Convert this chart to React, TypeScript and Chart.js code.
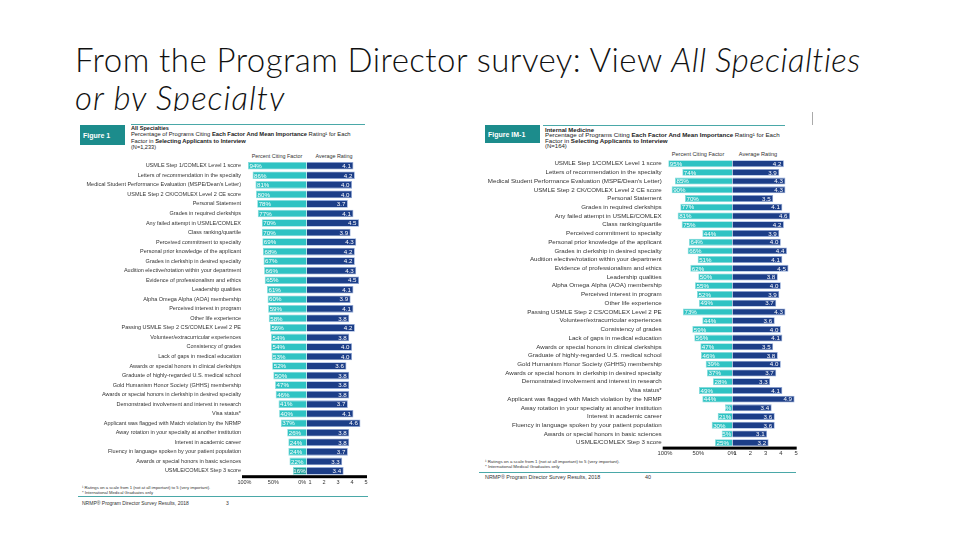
import React, { useEffect, useRef } from "react";
import { Chart, registerables } from "chart.js";

Chart.register(...registerables);

// ---------------- data ----------------
const factors = [
  "USMLE Step 1/COMLEX Level 1 score",
  "Letters of recommendation in the specialty",
  "Medical Student Performance Evaluation (MSPE/Dean's Letter)",
  "USMLE Step 2 CK/COMLEX Level 2 CE score",
  "Personal Statement",
  "Grades in required clerkships",
  "Any failed attempt in USMLE/COMLEX",
  "Class ranking/quartile",
  "Perceived commitment to specialty",
  "Personal prior knowledge of the applicant",
  "Grades in clerkship in desired specialty",
  "Audition elective/rotation within your department",
  "Evidence of professionalism and ethics",
  "Leadership qualities",
  "Alpha Omega Alpha (AOA) membership",
  "Perceived interest in program",
  "Other life experience",
  "Passing USMLE Step 2 CS/COMLEX Level 2 PE",
  "Volunteer/extracurricular experiences",
  "Consistency of grades",
  "Lack of gaps in medical education",
  "Awards or special honors in clinical clerkships",
  "Graduate of highly-regarded U.S. medical school",
  "Gold Humanism Honor Society (GHHS) membership",
  "Awards or special honors in clerkship in desired specialty",
  "Demonstrated involvement and interest in research",
  "Visa status*",
  "Applicant was flagged with Match violation by the NRMP",
  "Away rotation in your specialty at another institution",
  "Interest in academic career",
  "Fluency in language spoken by your patient population",
  "Awards or special honors in basic sciences",
  "USMLE/COMLEX Step 3 score",
];

const allPercent = [94, 86, 81, 80, 78, 77, 70, 70, 69, 68, 67, 66, 65, 61, 60, 59, 58, 56, 54, 54, 53, 52, 50, 47, 46, 41, 40, 37, 26, 24, 24, 22, 16];
const allRating = [4.1, 4.2, 4.0, 4.0, 3.7, 4.1, 4.5, 3.9, 4.3, 4.2, 4.2, 4.3, 4.5, 4.1, 3.9, 4.1, 3.8, 4.2, 3.8, 4.0, 4.0, 3.6, 3.8, 3.8, 3.8, 3.7, 4.1, 4.6, 3.8, 3.8, 3.7, 3.3, 3.4];

const imPercent = [95, 74, 85, 90, 70, 77, 81, 75, 44, 64, 66, 51, 62, 50, 55, 52, 49, 73, 44, 59, 56, 47, 46, 39, 37, 28, 49, 44, 10, 21, 30, 15, 25];
const imRating = [4.2, 3.9, 4.3, 4.3, 3.5, 4.1, 4.6, 4.2, 3.9, 4.0, 4.4, 4.1, 4.5, 3.8, 4.0, 3.9, 3.7, 4.3, 3.6, 4.0, 4.1, 3.5, 3.8, 4.0, 3.7, 3.3, 4.1, 4.9, 3.4, 3.6, 3.6, 3.1, 3.2];

const percentTicks = [100, 50, 0];
const ratingTicks = [1, 2, 3, 4, 5];

// ---------------- styles ----------------
const TEAL = "#2fc3c3";
const TEAL_DARK = "#26a29e";
const TEAL_EDGE = "#86dcdc";
const NAVY = "#1c3e88";
const NAVY_EDGE = "#90a8d8";
const HEAD_TEAL = "#1c8c8c";
const LINE_TEAL = "#4aa8a8";
const FONT = "'Liberation Sans', Arial, sans-serif";

const barLabels = {
  id: "barLabels",
  beforeDatasetsDraw(chart: any) {
    const { ctx, chartArea } = chart;
    ctx.save();
    ctx.fillStyle = "#000000";
    ctx.fillRect(chartArea.left, chartArea.bottom - 0.5, chartArea.right - chartArea.left, 3);
    ctx.restore();
  },
  afterDatasetsDraw(chart: any, _args: any, opts: any) {
    const { ctx } = chart;
    ctx.save();
    ctx.font = `${opts.size}px ${FONT}`;
    ctx.fillStyle = "#ffffff";
    ctx.textBaseline = "middle";
    const pMeta = chart.getDatasetMeta(0);
    const rMeta = chart.getDatasetMeta(1);
    const boundary = chart.scales.xp.right;
    pMeta.data.forEach((bar: any, i: number) => {
      const text = chart.data.datasets[0].data[i] + "%";
      const left = Math.min(bar.x, bar.base);
      const w = ctx.measureText(text).width;
      const x = Math.min(left + 1.5, boundary - w - 1);
      ctx.textAlign = "left";
      ctx.fillText(text, x, bar.y + 0.5);
    });
    rMeta.data.forEach((bar: any, i: number) => {
      const v = chart.data.datasets[1].data[i];
      ctx.textAlign = "right";
      ctx.fillText(Number(v).toFixed(1), bar.x - 2.5, bar.y + 0.5);
    });
    ctx.restore();
  },
};

type Spec = {
  percent: number[];
  rating: number[];
  width: number;
  height: number;
  yWidth: number;
  pad: { top: number; right: number; bottom: number; left: number };
  xHeight: number;
  pWeight: number;
  rWeight: number;
  pMin: number;
  pMax: number;
  rMin: number;
  rMax: number;
  labelSize: number;
  tickSize: number;
  valueSize: number;
  lastDark: boolean;
};

function FigureChart({ spec, left, top }: { spec: Spec; left: number; top: number }) {
  const ref = useRef<HTMLCanvasElement | null>(null);
  useEffect(() => {
    if (!ref.current) return;
    const pColors = spec.percent.map((_, i) => (spec.lastDark && i === spec.percent.length - 1 ? TEAL_DARK : TEAL));
    const chart = new Chart(ref.current, {
      type: "bar",
      data: {
        labels: factors,
        datasets: [
          {
            data: spec.percent,
            xAxisID: "xp",
            base: spec.pMin,
            backgroundColor: pColors,
            borderColor: TEAL_EDGE,
            borderWidth: 0.8,
            grouped: false,
            barPercentage: 0.8,
            categoryPercentage: 1,
          } as any,
          {
            data: spec.rating,
            xAxisID: "xr",
            base: spec.rMin,
            backgroundColor: NAVY,
            borderColor: NAVY_EDGE,
            borderWidth: 0.8,
            grouped: false,
            barPercentage: 0.8,
            categoryPercentage: 1,
          } as any,
        ],
      },
      options: {
        indexAxis: "y",
        animation: false,
        responsive: false,
        maintainAspectRatio: false,
        layout: { padding: spec.pad },
        plugins: {
          legend: { display: false },
          tooltip: { enabled: false },
          barLabels: { size: spec.valueSize },
        } as any,
        scales: {
          y: {
            position: "left",
            grid: { display: false, drawTicks: false },
            border: { display: false },
            ticks: {
              autoSkip: false,
              padding: 1,
              color: "#333",
              font: { size: spec.labelSize, family: FONT },
            },
            afterFit: (s: any) => {
              s.width = spec.yWidth;
            },
          },
          xp: {
            type: "linear",
            position: "bottom",
            stack: "x",
            stackWeight: spec.pWeight,
            reverse: true,
            min: spec.pMin,
            max: spec.pMax,
            grid: { display: false, drawTicks: false },
            border: { display: false },
            ticks: {
              padding: 3,
              color: "#333",
              font: { size: spec.tickSize, family: FONT },
              callback: (v: any) => v + "%",
            },
            afterBuildTicks: (s: any) => {
              s.ticks = percentTicks.map((v) => ({ value: v }));
            },
            afterFit: (s: any) => {
              s.height = spec.xHeight;
            },
          },
          xr: {
            type: "linear",
            position: "bottom",
            stack: "x",
            stackWeight: spec.rWeight,
            min: spec.rMin,
            max: spec.rMax,
            grid: { display: false, drawTicks: false },
            border: { display: false },
            ticks: {
              padding: 3,
              color: "#333",
              font: { size: spec.tickSize, family: FONT },
            },
            afterBuildTicks: (s: any) => {
              s.ticks = ratingTicks.map((v) => ({ value: v }));
            },
            afterFit: (s: any) => {
              s.height = spec.xHeight;
            },
          },
        } as any,
      },
      plugins: [barLabels as any],
    });
    return () => chart.destroy();
  }, []);
  return (
    <canvas
      ref={ref}
      width={spec.width}
      height={spec.height}
      style={{ position: "absolute", left, top, width: spec.width, height: spec.height }}
    />
  );
}

// tiny text helper (rendered at 2x and scaled down to avoid minimum font sizes)
function T({
  x,
  y,
  size,
  children,
  weight = 400,
  color = "#333",
  align = "left",
}: {
  x: number;
  y: number;
  size: number;
  children: React.ReactNode;
  weight?: number;
  color?: string;
  align?: "left" | "center" | "right";
}) {
  const tx = align === "left" ? "0" : align === "center" ? "-50%" : "-100%";
  return (
    <div
      style={{
        position: "absolute",
        left: x,
        top: y,
        fontFamily: FONT,
        fontSize: size * 2,
        lineHeight: `${size * 2}px`,
        fontWeight: weight,
        color,
        whiteSpace: "nowrap",
        transformOrigin: "0 0",
        transform: `scale(0.5) translate(${tx}, -50%)`,
        pointerEvents: "none",
      }}
    >
      {children}
    </div>
  );
}

const leftSpec: Spec = {
  percent: allPercent,
  rating: allRating,
  width: 300,
  height: 345,
  yWidth: 164,
  pad: { top: 11, right: 11, bottom: 9.3, left: 0 },
  xHeight: 10,
  pWeight: 64.7,
  rWeight: 60.3,
  pMin: -7.8,
  pMax: 104.3,
  rMin: 0.76,
  rMax: 5.07,
  labelSize: 5.5,
  tickSize: 5.5,
  valueSize: 6.2,
  lastDark: true,
};

const rightSpec: Spec = {
  percent: imPercent,
  rating: imRating,
  width: 346,
  height: 322,
  yWidth: 196.7,
  pad: { top: 11.3, right: 15.3, bottom: 13.9, left: 0 },
  xHeight: 9,
  pWeight: 69.6,
  rWeight: 64.4,
  pMin: -0.9,
  pMax: 103.4,
  rMin: 0.82,
  rMax: 5.04,
  labelSize: 6.2,
  tickSize: 5.8,
  valueSize: 6.2,
  lastDark: false,
};

export default function App() {
  useEffect(() => {
    document.body.style.margin = "0";
  }, []);
  return (
    <div style={{ position: "relative", width: 960, height: 540, background: "#fff", overflow: "hidden" }}>
      {/* slide title */}
      <div
        style={{
          position: "absolute",
          left: 75,
          top: 40,
          fontFamily: "Lato, 'Open Sans', sans-serif",
          fontWeight: 300,
          fontSize: 33,
          letterSpacing: "0.45px",
          lineHeight: "38px",
          color: "#111",
          whiteSpace: "nowrap",
        }}
      >
        From the Program Director survey: View <i>All Specialties</i>
        <br />
        <i style={{ letterSpacing: "1px" }}>or by Specialty</i>
      </div>

      {/* figure backgrounds */}
      <div style={{ position: "absolute", left: 76, top: 111, width: 298, height: 400, background: "#fff" }} />
      <div style={{ position: "absolute", left: 474, top: 111, width: 338, height: 372, background: "#fff" }} />
      <div style={{ position: "absolute", left: 812, top: 112, width: 1, height: 13, background: "#aaa" }} />

      {/* left header */}
      <div style={{ position: "absolute", left: 80, top: 125, width: 45, height: 20, background: HEAD_TEAL }} />
      <T x={83} y={135} size={7} weight={700} color="#fff">Figure 1</T>
      <div style={{ position: "absolute", left: 131, top: 123.5, width: 234, height: 1.5, background: LINE_TEAL }} />
      <T x={131} y={127.5} size={5.6} weight={700} color="#222">All Specialties</T>
      <T x={131} y={134} size={5.8} color="#222">
        Percentage of Programs Citing <b>Each Factor And Mean Importance</b> Rating¹ for Each
      </T>
      <T x={131} y={140.5} size={5.8} color="#222">
        Factor in <b>Selecting Applicants to Interview</b>
      </T>
      <T x={131} y={147} size={5.6} color="#222">(N=1,233)</T>
      <T x={277} y={155.5} size={5.4} align="center">Percent Citing Factor</T>
      <T x={334} y={155.5} size={5.4} align="center">Average Rating</T>

      {/* left footer */}
      <T x={81.5} y={488.3} size={4.2}>¹ Ratings on a scale from 1 (not at all important) to 5 (very important).</T>
      <T x={81.5} y={493.3} size={4.2}>* International Medical Graduates only</T>
      <div style={{ position: "absolute", left: 78, top: 496.2, width: 290, height: 1, background: LINE_TEAL }} />
      <T x={81.5} y={502.7} size={5}>NRMP® Program Director Survey Results, 2018</T>
      <T x={226} y={502.7} size={5}>3</T>

      {/* right header */}
      <div style={{ position: "absolute", left: 485, top: 125, width: 55, height: 18, background: HEAD_TEAL }} />
      <T x={488} y={134} size={7} weight={700} color="#fff">Figure IM-1</T>
      <div style={{ position: "absolute", left: 543, top: 124.5, width: 242, height: 1.5, background: LINE_TEAL }} />
      <T x={545} y={129.5} size={6} weight={700} color="#222">Internal Medicine</T>
      <T x={545} y={135} size={6.2} color="#222">
        Percentage of Programs Citing <b>Each Factor And Mean Importance</b> Rating¹ for Each
      </T>
      <T x={545} y={140.5} size={6.2} color="#222">
        Factor in <b>Selecting Applicants to Interview</b>
      </T>
      <T x={545} y={145.5} size={6} color="#222">(N=164)</T>
      <T x={698} y={154.3} size={5.6} align="center">Percent Citing Factor</T>
      <T x={758} y={154.3} size={5.6} align="center">Average Rating</T>

      {/* right footer */}
      <T x={485} y={462.3} size={4.4}>¹ Ratings on a scale from 1 (not at all important) to 5 (very important).</T>
      <T x={485} y={467.3} size={4.4}>* International Medical Graduates only</T>
      <div style={{ position: "absolute", left: 479, top: 471.5, width: 317, height: 1, background: LINE_TEAL }} />
      <T x={485} y={476.7} size={5.4}>NRMP® Program Director Survey Results, 2018</T>
      <T x={645} y={476.7} size={5.4}>40</T>

      {/* charts on top of everything */}
      <FigureChart spec={leftSpec} left={78} top={150} />
      <FigureChart spec={rightSpec} left={466} top={148} />
    </div>
  );
}
